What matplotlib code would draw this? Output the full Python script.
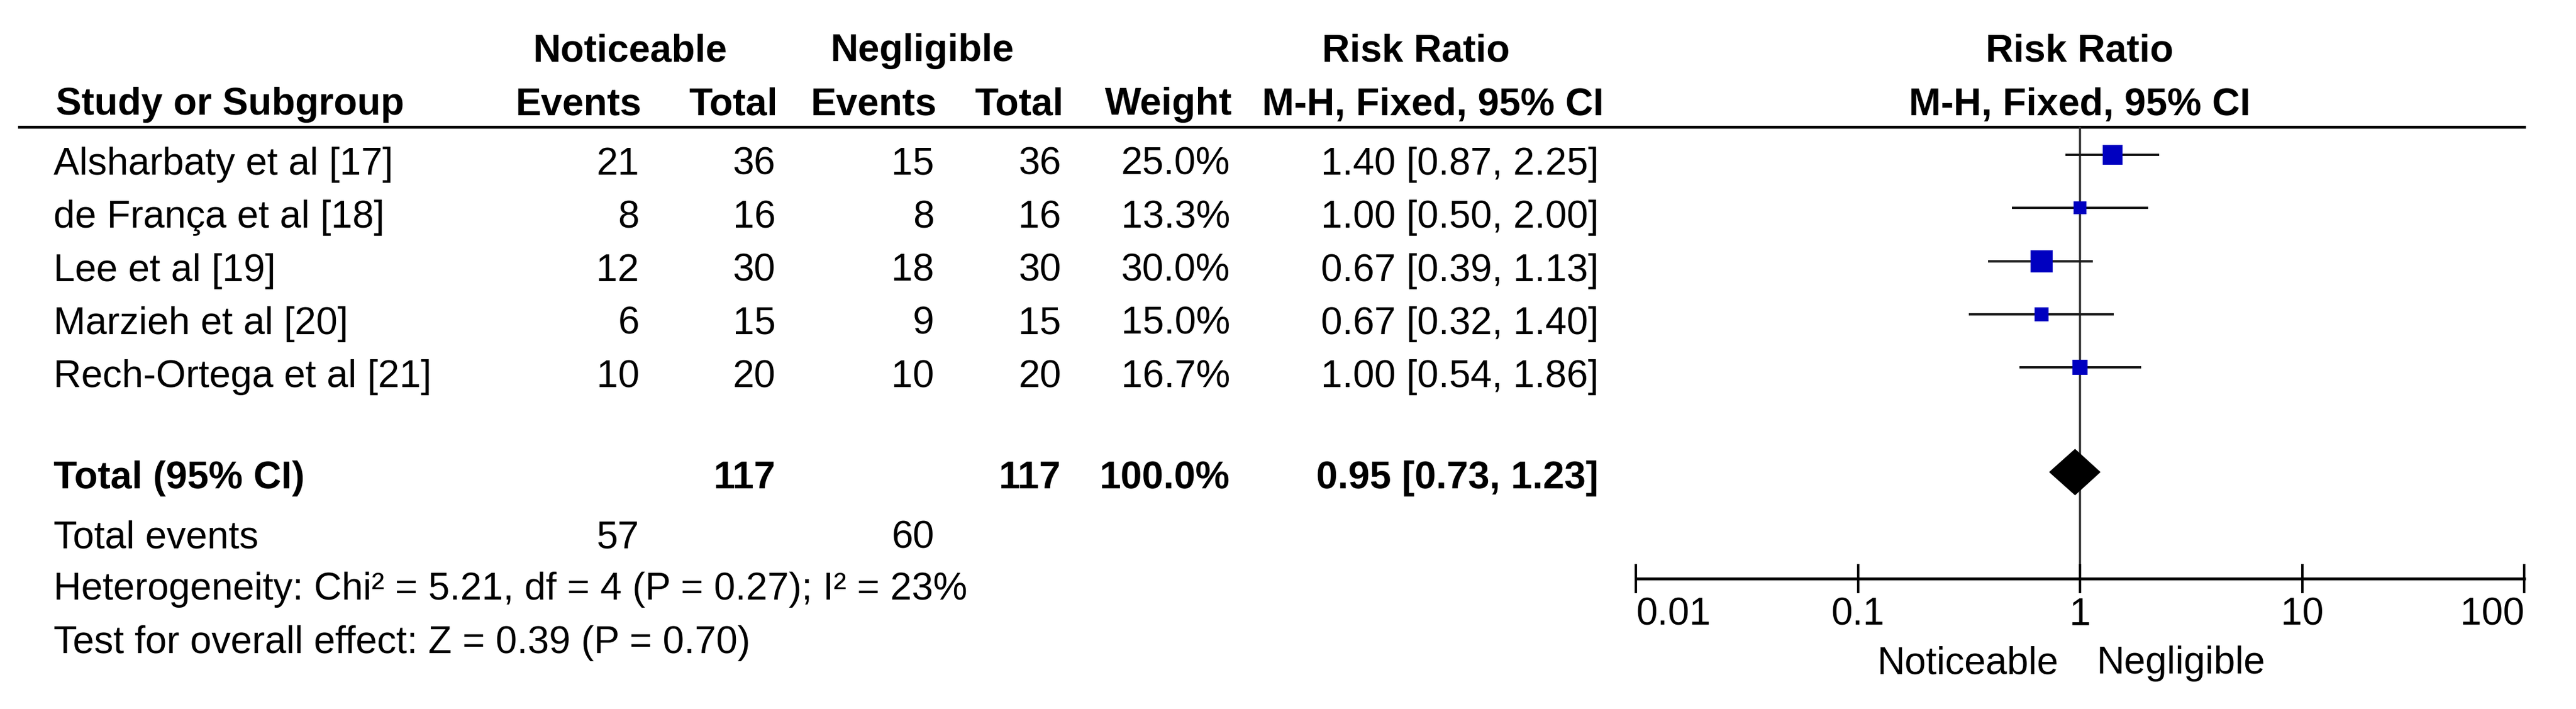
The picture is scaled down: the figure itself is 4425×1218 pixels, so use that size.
import matplotlib.pyplot as plt
from matplotlib.lines import Line2D

plt.rcParams['font.family'] = ['Liberation Sans', 'DejaVu Sans']

# study data
studies = ['Alsharbaty et al [17]', 'de França et al [18]', 'Lee et al [19]',
           'Marzieh et al [20]', 'Rech-Ortega et al [21]']
ev_noticeable = [21, 8, 12, 6, 10]
tot_noticeable = [36, 16, 30, 15, 20]
ev_negligible = [15, 8, 18, 9, 10]
tot_negligible = [36, 16, 30, 15, 20]
weights = [25.0, 13.3, 30.0, 15.0, 16.7]
rr = [1.40, 1.00, 0.67, 0.67, 1.00]
ci_lo = [0.87, 0.50, 0.39, 0.32, 0.54]
ci_hi = [2.25, 2.00, 1.13, 1.40, 1.86]

# pooled
total_n = [117, 117]
total_events = [57, 60]
pooled = [0.95, 0.73, 1.23]
het = {'chi2': 5.21, 'df': 4, 'p': 0.27, 'i2': 23}
overall = {'z': 0.39, 'p': 0.70}

ticks = [0.01, 0.1, 1, 10, 100]
tick_labels = ['0.01', '0.1', '1', '10', '100']

W, H = 4425, 1218
FS = 47.5
fig = plt.figure(figsize=(W / 100, H / 100), dpi=100)
fig.patch.set_facecolor('white')

# overlay axes in pixel units for the table
tab = fig.add_axes([0, 0, 1, 1])
tab.set_xlim(0, W)
tab.set_ylim(H, 0)
tab.axis('off')

row_y = [266 + 91.3 * i for i in range(len(studies))]
total_y = 811
cols = [1098, 1332, 1605, 1823, 2113, 2746]

def txt(x, y, s, ha='left', bold=False):
    tab.text(x, y, s, ha=ha, va='baseline', fontsize=FS,
             fontweight='bold' if bold else 'normal', color='black')

# headers
txt(1083, 105, 'Noticeable', 'center', True)
txt(1584, 105, 'Negligible', 'center', True)
txt(2432, 105, 'Risk Ratio', 'center', True)
txt(3572, 105, 'Risk Ratio', 'center', True)
txt(96, 197, 'Study or Subgroup', bold=True)
for x, s in zip(cols[:5], ['Events', 'Total', 'Events', 'Total', 'Weight']):
    txt(x + 4, 197, s, 'right', True)
txt(2461, 197, 'M-H, Fixed, 95% CI', 'center', True)
txt(3572, 197, 'M-H, Fixed, 95% CI', 'center', True)
tab.add_line(Line2D([33, 4336], [218, 218], color='black', lw=3.6))

# study rows
for i, y in enumerate(row_y):
    b = y + 34
    txt(92, b, studies[i])
    txt(cols[0], b, str(ev_noticeable[i]), 'right')
    txt(cols[1], b, str(tot_noticeable[i]), 'right')
    txt(cols[2], b, str(ev_negligible[i]), 'right')
    txt(cols[3], b, str(tot_negligible[i]), 'right')
    txt(cols[4], b, f'{weights[i]:.1f}%', 'right')
    txt(cols[5], b, f'{rr[i]:.2f} [{ci_lo[i]:.2f}, {ci_hi[i]:.2f}]', 'right')

# totals
b = total_y + 28
txt(92, b, 'Total (95% CI)', bold=True)
txt(cols[1], b, str(total_n[0]), 'right', True)
txt(cols[3], b, str(total_n[1]), 'right', True)
txt(cols[4], b, f'{sum(weights):.1f}%', 'right', True)
txt(cols[5], b, f'{pooled[0]:.2f} [{pooled[1]:.2f}, {pooled[2]:.2f}]', 'right', True)
txt(92, 941, 'Total events')
txt(cols[0], 941, str(total_events[0]), 'right')
txt(cols[2], 941, str(total_events[1]), 'right')
txt(92, 1030, f"Heterogeneity: Chi² = {het['chi2']:.2f}, df = {het['df']} "
              f"(P = {het['p']:.2f}); I² = {het['i2']}%")
txt(92, 1122, f"Test for overall effect: Z = {overall['z']:.2f} (P = {overall['p']:.2f})")

# forest plot axes
x0, x1, ytop, ybot = 2810, 4336, 218, 994
ax = fig.add_axes([x0 / W, 1 - ybot / H, (x1 - x0) / W, (ybot - ytop) / H])
ax.patch.set_alpha(0)
ax.set_xscale('log')
ax.set_xlim(0.01, 100)
ax.set_ylim(ybot, ytop)
for s in ['top', 'left', 'right']:
    ax.spines[s].set_visible(False)
ax.spines['bottom'].set_linewidth(3.6)
ax.set_yticks([])
ax.set_xticks(ticks)
ax.set_xticklabels(tick_labels)
ax.minorticks_off()
ax.tick_params(axis='x', direction='inout', length=36, width=3, pad=5,
               labelsize=FS)
lbls = ax.get_xticklabels()
lbls[0].set_ha('left')
lbls[-1].set_ha('right')

ax.plot([1, 1], [ytop, ybot], color='#333333', lw=2.6, zorder=1)

for i, y in enumerate(row_y):
    ax.plot([ci_lo[i], ci_hi[i]], [y, y], color='#1a1a1a', lw=2.9, zorder=2)
    side = 9 + 0.97 * weights[i]
    ax.plot(rr[i], y, marker='s', ms=side * 0.72, color='#0000c0',
            mec='#0000c0', mew=0, zorder=3)

hd = 39
ax.fill([pooled[1], pooled[0], pooled[2], pooled[0]],
        [total_y, total_y - hd, total_y, total_y + hd],
        color='black', zorder=3)

txt(3536, 1157, 'Noticeable', 'right')
txt(3602, 1157, 'Negligible', 'left')

fig.savefig('out.png', dpi=100, facecolor='white')
